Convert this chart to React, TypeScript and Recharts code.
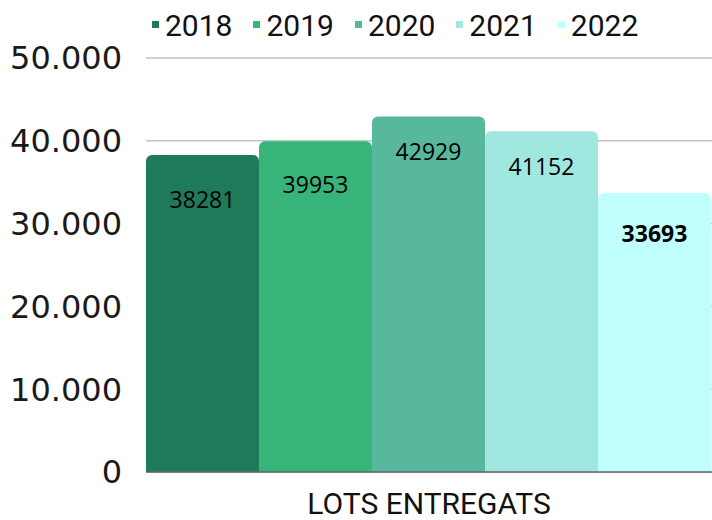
import React from 'react';
import { BarChart, Bar, XAxis, YAxis, CartesianGrid, Legend, LabelList } from 'recharts';

const categories = ['LOTS ENTREGATS'];
const years = ['2018', '2019', '2020', '2021', '2022'];
const values = [38281, 39953, 42929, 41152, 33693];
const yTicks = [0, 10000, 20000, 30000, 40000, 50000];

const colors = ['#1f7a5a', '#36b479', '#57b89e', '#a0e7e0', '#bffffc'];
const labelOffsets = [37, 35, 27, 27, 33];
const boldLabel = [false, false, false, false, true];

const data = categories.map((c) => {
  const row: Record<string, string | number> = { name: c };
  years.forEach((y, i) => {
    row[y] = values[i];
  });
  return row;
});

const fmt = (v: number) => (v === 0 ? '0' : v.toLocaleString('de-DE'));

const LegendContent = (props: any) => {
  const payload = props.payload || [];
  return (
    <div style={{ display: 'flex', alignItems: 'center', height: 50 }}>
      {payload.map((p: any) => (
        <div key={p.value} style={{ display: 'flex', alignItems: 'center', marginRight: 21 }}>
          <div style={{ width: 7, height: 7, background: p.color, marginRight: 6, marginTop: -2 }} />
          <span style={{ fontFamily: 'Roboto', fontSize: 30, color: '#111' }}>{p.value}</span>
        </div>
      ))}
    </div>
  );
};

export default function App() {
  return (
    <div style={{ position: 'absolute', left: 0, top: 0, background: '#fff' }}>
      <BarChart
        width={712}
        height={520}
        data={data}
        margin={{ top: 58, right: 0, bottom: 0, left: 0 }}
        barCategoryGap={0}
        barGap={0}
      >
        <CartesianGrid vertical={false} stroke="#c4c4c4" strokeWidth={1.5} />
        <XAxis
          dataKey="name"
          height={48}
          tickLine={false}
          axisLine={{ stroke: '#666', strokeWidth: 1.5 }}
          tickMargin={15}
          tick={{ fontFamily: 'Roboto', fontSize: 30, fill: '#111' }}
        />
        <YAxis
          width={146}
          domain={[0, 50000]}
          ticks={yTicks}
          interval={0}
          tickFormatter={fmt}
          axisLine={false}
          tickLine={false}
          tickSize={0}
          tickMargin={24}
          tick={{ fontFamily: '"DejaVu Sans"', fontSize: 32, fill: '#1a1a1a' }}
        />
        <Legend
          verticalAlign="middle"
          layout="horizontal"
          content={<LegendContent />}
          wrapperStyle={{ top: 0, left: 152, width: 560, height: 50 }}
        />
        {years.map((y, i) => (
          <Bar key={y} dataKey={y} fill={colors[i]} radius={[6, 6, 0, 0]} isAnimationActive={false}>
            <LabelList
              dataKey={y}
              position="insideTop"
              offset={labelOffsets[i]}
              style={{
                fontFamily: '"Open Sans"',
                fontSize: 23,
                fill: '#000',
                fontWeight: boldLabel[i] ? 700 : 400,
              }}
            />
          </Bar>
        ))}
      </BarChart>
    </div>
  );
}
